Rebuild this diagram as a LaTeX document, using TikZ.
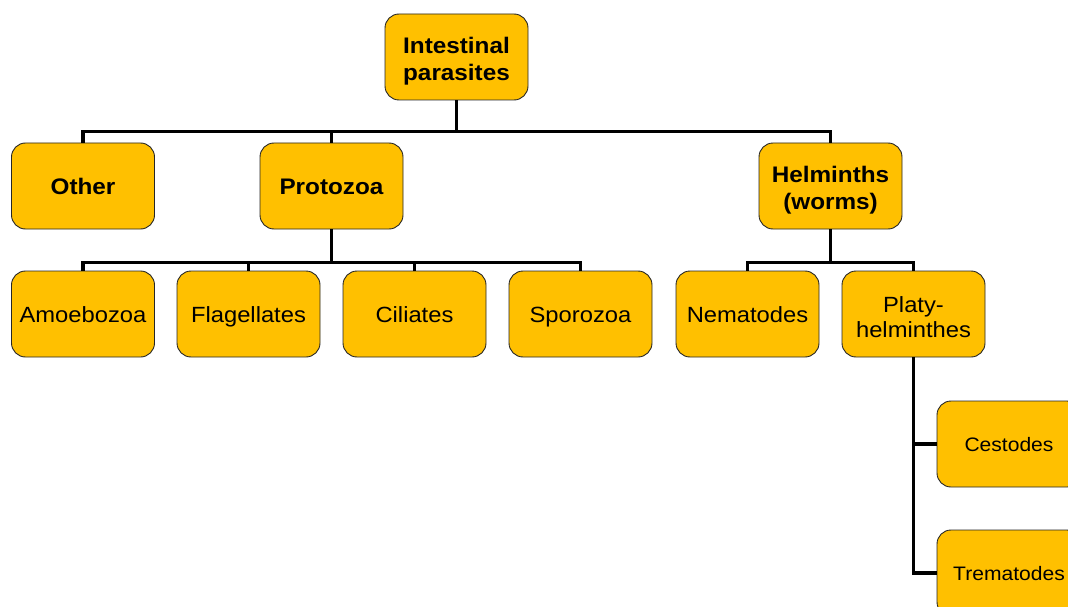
\documentclass[tikz,border=0pt]{standalone}
\usepackage{fontspec}
\setmainfont{Liberation Sans}[FakeStretch=1.08]
\definecolor{boxfill}{HTML}{FFC000}
\newcommand{\topstrut}{\rule{0pt}{1.25em}}
\newcommand{\bigstrut}{\rule{0pt}{1.1em}}
\begin{document}
\begin{tikzpicture}[x=1pt,y=-1pt,
  box/.style={draw=black!85, line width=0.9pt, fill=boxfill, rounded corners=14pt,
    minimum width=143pt, minimum height=86pt, inner sep=2pt, align=center, text=black,
    execute at begin node={\rule{0pt}{0.98em}}, execute at end node={\rule[-0.22em]{0pt}{0pt}}},
  big/.style={box, font=\fontsize{22.5}{27}\selectfont\bfseries},
  mid/.style={box, font=\fontsize{22}{25}\selectfont},
  small/.style={box, font=\fontsize{19.5}{22}\selectfont},
  conn/.style={line width=3.2pt, black}]
\clip (0,0) rectangle (1068,607);
\node[big] (root) at (456.5,57) {\bigstrut Intestinal\\parasites};
\node[big] (other) at (83,186) {Other};
\node[big] (proto) at (331.5,186) {Protozoa};
\node[big] (helm) at (830.5,186) {\bigstrut Helminths\\(worms)};
\node[mid] (amoe) at (83,314) {Amoebozoa};
\node[mid] (flag) at (248.5,314) {Flagellates};
\node[mid] (cili) at (414.5,314) {Ciliates};
\node[mid] (spor) at (580.5,314) {Sporozoa};
\node[mid] (nema) at (747.5,314) {Nematodes};
\node[mid] (platy) at (913.5,314) {\topstrut Platy-\\helminthes};
\node[small, minimum width=144pt] (cest) at (1009,444) {Cestodes};
\node[small, minimum width=144pt] (trem) at (1009,573) {Trematodes};
\foreach \c in {other,proto,helm}
  \draw[conn] (root.south) -- ++(0,31) -| (\c.north);
\foreach \c in {amoe,flag,cili,spor}
  \draw[conn] (proto.south) -- ++(0,33) -| (\c.north);
\foreach \c in {nema,platy}
  \draw[conn] (helm.south) -- ++(0,33) -| (\c.north);
\draw[conn] (platy.south) |- (cest.west);
\draw[conn] (platy.south) |- (trem.west);
\end{tikzpicture}
\end{document}
